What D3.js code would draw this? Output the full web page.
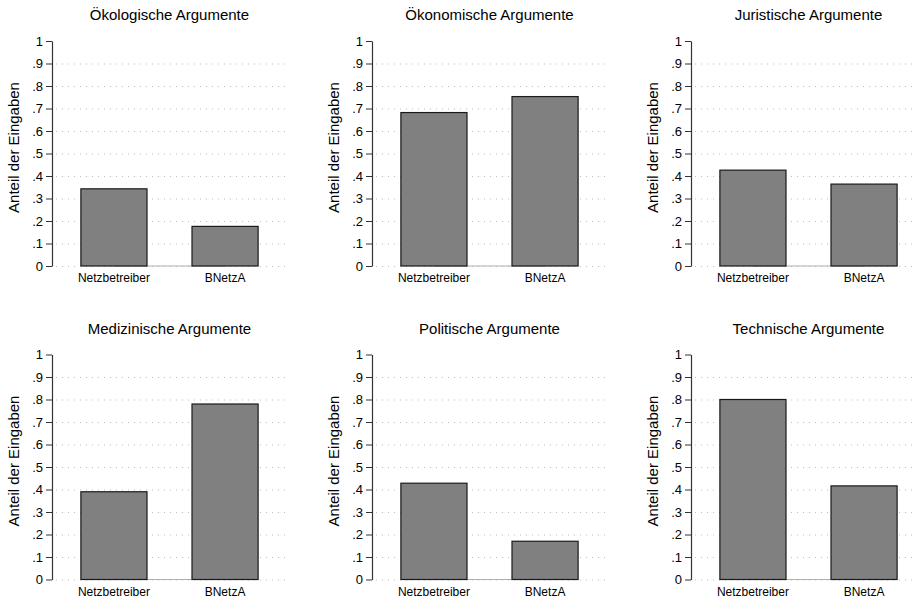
<!DOCTYPE html>
<html>
<head>
<meta charset="utf-8">
<script src="https://cdn.jsdelivr.net/npm/d3@7"></script>
<style>
  html, body { margin: 0; padding: 0; background: #fff; }
  svg { display: block; font-family: Arial, "Liberation Sans", sans-serif; }
  .grid line { stroke: #bdbdbd; stroke-dasharray: 1 5; }
</style>
</head>
<body>
<svg id="chart" width="914" height="600"></svg>
<script>
/* Anteil der Eingaben nach Argumenttyp — 2x3 small multiples */

const panelTitles = [
  'Ökologische Argumente', 'Ökonomische Argumente', 'Juristische Argumente',
  'Medizinische Argumente', 'Politische Argumente', 'Technische Argumente'
];
const categories = ['Netzbetreiber', 'BNetzA'];
const netzbetreiberValues = [0.343, 0.682, 0.426, 0.390, 0.428, 0.800];
const bnetzaValues = [0.176, 0.753, 0.364, 0.780, 0.170, 0.416];
const yTicks = [0, 0.1, 0.2, 0.3, 0.4, 0.5, 0.6, 0.7, 0.8, 0.9, 1];
const yTickLabels = ['0', '.1', '.2', '.3', '.4', '.5', '.6', '.7', '.8', '.9', '1'];
const gridTicks = [0, 0.1, 0.2, 0.3, 0.4, 0.5, 0.6, 0.7, 0.8, 0.9];
const yTitle = 'Anteil der Eingaben';

const colX = [52, 372, 691];   // y-axis position per column
const rowBase = [266, 579.5];  // y=0 pixel per row
const plotW = 235, plotH = 225;

const svg = d3.select('#chart');

const x = d3.scaleBand()
  .domain(categories)
  .range([0, plotW])
  .paddingInner(0.405)
  .paddingOuter(0.26);

const y = d3.scaleLinear().domain([0, 1]).range([plotH, 0]);

panelTitles.forEach((title, i) => {
  const col = i % 3, row = Math.floor(i / 3);
  const g = svg.append('g')
    .attr('transform', `translate(${colX[col]},${rowBase[row] - plotH})`);

  const values = [netzbetreiberValues[i], bnetzaValues[i]];

  // dotted grid
  g.append('g').attr('class', 'grid')
    .selectAll('line')
    .data(gridTicks)
    .join('line')
    .attr('x1', 4).attr('x2', plotW)
    .attr('y1', d => y(d) + 0.5).attr('y2', d => y(d) + 0.5);

  // baseline between bar centres
  g.append('line')
    .attr('x1', x(categories[0]) + x.bandwidth() / 2)
    .attr('x2', x(categories[1]) + x.bandwidth() / 2)
    .attr('y1', y(0)).attr('y2', y(0))
    .attr('stroke', '#b0b0b0').attr('stroke-width', 1.2);

  // bars
  g.selectAll('rect.bar')
    .data(categories)
    .join('rect')
    .attr('class', 'bar')
    .attr('x', d => x(d))
    .attr('width', x.bandwidth())
    .attr('y', (d, j) => y(values[j]))
    .attr('height', (d, j) => y(0) - y(values[j]))
    .attr('fill', '#808080')
    .attr('stroke', '#1a1a1a')
    .attr('stroke-width', 1.2);

  // y axis
  const yAxis = g.append('g')
    .call(d3.axisLeft(y)
      .tickValues(yTicks)
      .tickFormat((d, k) => yTickLabels[k])
      .tickSize(6)
      .tickPadding(3)
      .tickSizeOuter(0));
  yAxis.select('.domain').attr('stroke', '#333').attr('stroke-width', 1.2);
  yAxis.selectAll('.tick line').attr('stroke', '#333');
  yAxis.selectAll('.tick text')
    .attr('fill', '#000')
    .style('font-size', '13px')
    .style('font-family', 'Arial, "Liberation Sans", sans-serif');

  // category labels
  g.selectAll('text.cat')
    .data(categories)
    .join('text')
    .attr('class', 'cat')
    .attr('x', d => x(d) + x.bandwidth() / 2)
    .attr('y', plotH + 16)
    .attr('text-anchor', 'middle')
    .style('font-size', '12px')
    .text(d => d);

  // y title
  g.append('text')
    .attr('transform', `translate(-33,${plotH / 2 - 6}) rotate(-90)`)
    .attr('text-anchor', 'middle')
    .style('font-size', '15px')
    .text(yTitle);

  // panel title
  g.append('text')
    .attr('x', plotW / 2)
    .attr('y', -21)
    .attr('text-anchor', 'middle')
    .style('font-size', '15px')
    .text(title);
});
</script>
</body>
</html>
